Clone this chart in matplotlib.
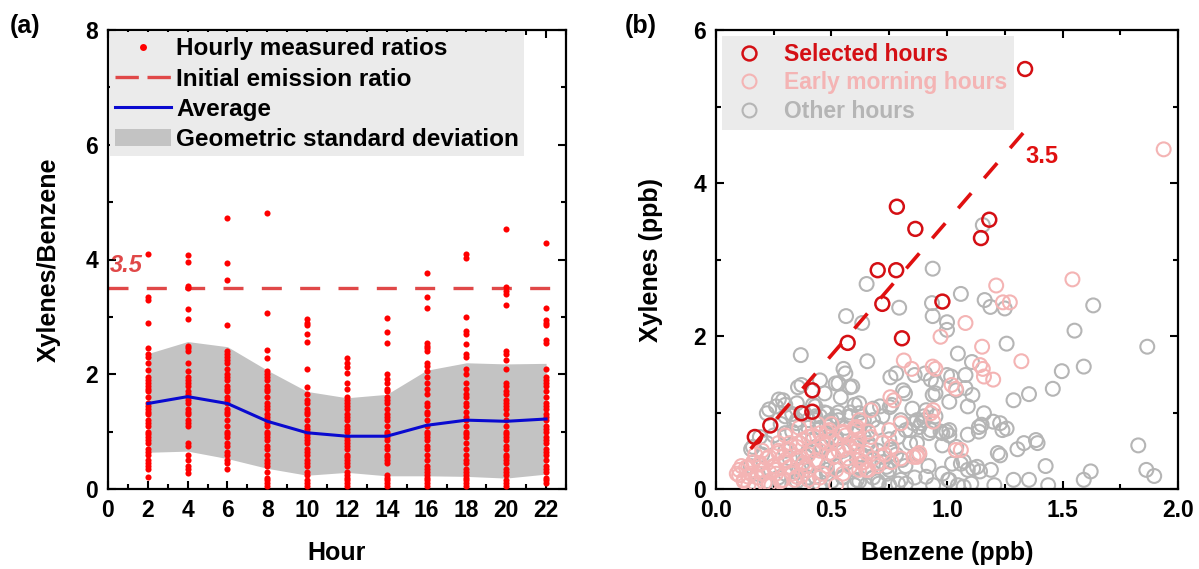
import numpy as np
import matplotlib.pyplot as plt
from matplotlib.lines import Line2D
from matplotlib.patches import Patch

plt.rcParams['font.family'] = ['Liberation Sans', 'DejaVu Sans']
plt.rcParams['font.weight'] = 'bold'

# ---- panel (a): hourly ratios ----
hours = [2, 4, 6, 8, 10, 12, 14, 16, 18, 20, 22]
ratios = {
    2: [4.1, 3.34, 3.3, 2.9, 2.45, 2.35, 2.3, 2.2, 2.07, 1.95, 1.9, 1.85, 1.8, 1.75, 1.7, 1.6,
        1.5, 1.45, 1.4, 1.35, 1.3, 1.2, 1.15, 1.1, 1.0, 0.95, 0.9, 0.85, 0.8, 0.7, 0.65, 0.6,
        0.5, 0.45, 0.4, 0.35, 0.21],
    4: [4.08, 3.96, 3.54, 3.5, 3.13, 2.97, 2.49, 2.45, 2.4, 2.19, 2.05, 1.95, 1.9, 1.85, 1.8,
        1.7, 1.65, 1.6, 1.55, 1.5, 1.4, 1.35, 1.3, 1.2, 1.15, 1.1, 0.8, 0.75, 0.6, 0.5, 0.4,
        0.35, 0.28],
    6: [4.72, 3.94, 3.64, 2.86, 2.4, 2.35, 2.3, 2.25, 2.2, 2.1, 2.0, 1.95, 1.9, 1.8, 1.75, 1.7,
        1.6, 1.55, 1.5, 1.4, 1.35, 1.3, 1.2, 1.1, 1.0, 0.95, 0.9, 0.8, 0.75, 0.65, 0.6, 0.5,
        0.45, 0.35],
    8: [4.81, 3.06, 2.42, 2.28, 2.05, 2.0, 1.95, 1.9, 1.8, 1.75, 1.7, 1.6, 1.5, 1.45, 1.4, 1.3,
        1.25, 1.2, 1.15, 1.1, 1.0, 0.95, 0.9, 0.85, 0.75, 0.7, 0.6, 0.5, 0.45, 0.4, 0.3, 0.2,
        0.15, 0.1, 0.05],
    10: [2.97, 2.9, 2.85, 2.71, 2.57, 2.1, 1.78, 1.65, 1.55, 1.5, 1.4, 1.35, 1.3, 1.2, 1.1,
         1.05, 1.0, 0.95, 0.9, 0.85, 0.8, 0.7, 0.65, 0.6, 0.5, 0.45, 0.4, 0.3, 0.25, 0.15, 0.1,
         0.05],
    12: [2.28, 2.2, 2.12, 2.02, 1.85, 1.75, 1.6, 1.55, 1.5, 1.45, 1.4, 1.3, 1.25, 1.2, 1.1,
         1.05, 1.0, 0.9, 0.85, 0.8, 0.75, 0.7, 0.6, 0.55, 0.5, 0.45, 0.4, 0.3, 0.25, 0.2, 0.15,
         0.1, 0.05],
    14: [2.98, 2.74, 2.55, 2.0, 1.92, 1.85, 1.75, 1.7, 1.6, 1.55, 1.5, 1.4, 1.3, 1.25, 1.2,
         1.1, 1.0, 0.95, 0.9, 0.85, 0.75, 0.7, 0.6, 0.55, 0.5, 0.45, 0.25, 0.2, 0.15, 0.1, 0.05],
    16: [3.76, 3.34, 3.16, 2.55, 2.5, 2.45, 2.4, 2.2, 2.15, 2.05, 1.95, 1.85, 1.75, 1.65, 1.5,
         1.45, 1.35, 1.3, 1.2, 1.1, 1.0, 0.95, 0.9, 0.85, 0.75, 0.7, 0.6, 0.5, 0.4, 0.35, 0.3,
         0.25, 0.2, 0.15, 0.1, 0.05],
    18: [4.1, 4.02, 2.99, 2.75, 2.7, 2.52, 2.35, 2.3, 2.1, 2.0, 1.85, 1.75, 1.65, 1.6, 1.5,
         1.45, 1.35, 1.25, 1.2, 1.1, 1.0, 0.95, 0.9, 0.8, 0.7, 0.6, 0.5, 0.45, 0.35, 0.3, 0.25,
         0.2, 0.15, 0.1, 0.05],
    20: [4.54, 3.52, 3.45, 3.4, 3.2, 2.4, 2.35, 2.25, 2.1, 1.85, 1.8, 1.7, 1.65, 1.55, 1.5,
         1.45, 1.4, 1.3, 1.2, 1.1, 1.0, 0.95, 0.9, 0.85, 0.75, 0.7, 0.6, 0.55, 0.5, 0.45, 0.35,
         0.3, 0.25, 0.15, 0.1, 0.05],
    22: [4.29, 3.16, 2.95, 2.9, 2.85, 2.6, 2.55, 2.1, 1.95, 1.9, 1.85, 1.8, 1.7, 1.6, 1.5,
         1.45, 1.4, 1.3, 1.25, 1.2, 1.1, 1.05, 1.0, 0.9, 0.85, 0.8, 0.7, 0.65, 0.6, 0.5, 0.4,
         0.35, 0.3, 0.2, 0.15, 0.1],
}
avg_ratio = [1.49, 1.61, 1.49, 1.18, 0.98, 0.92, 0.92, 1.11, 1.20, 1.18, 1.22]
gsd_upper = [2.36, 2.57, 2.48, 2.07, 1.70, 1.59, 1.65, 2.07, 2.20, 2.18, 2.19]
gsd_lower = [0.64, 0.66, 0.53, 0.36, 0.24, 0.29, 0.23, 0.23, 0.22, 0.19, 0.26]
emission_ratio = 3.5

# ---- panel (b): xylenes vs benzene (ppb) ----
sel_bz = [1.338, 0.783, 0.863, 1.183, 1.147, 0.70, 0.78, 0.72, 0.98, 0.57, 0.805, 0.417,
          0.417, 0.235, 0.168, 0.37]
sel_xy = [5.49, 3.69, 3.40, 3.52, 3.28, 2.86, 2.86, 2.42, 2.45, 1.91, 1.97, 1.29,
          1.01, 0.83, 0.68, 0.99]

early_bz = [1.938, 1.543, 1.213, 1.242, 1.272, 1.08, 0.972, 1.152, 1.322, 1.143, 1.155, 1.2,
            0.813, 0.847, 0.938, 0.95, 1.038, 1.02, 0.755, 0.93, 0.94, 1.038, 0.855, 0.87,
            0.8, 0.76, 0.72, 0.6, 0.55, 0.5, 0.52, 0.45, 0.4, 0.35, 0.3, 0.25, 0.2, 0.15,
            0.1, 0.12, 0.18, 0.22, 0.27, 0.32, 0.38, 0.42, 0.48, 0.53, 0.58, 0.62, 0.66, 0.68,
            0.64, 0.55, 0.48, 0.4, 0.33, 0.28, 0.24, 0.14, 0.3, 0.36, 0.44, 0.5, 0.57, 0.62,
            0.7, 0.73, 0.76, 0.09, 0.16, 0.2, 0.26, 0.35, 0.45, 0.52, 0.13, 0.19, 0.23, 0.29,
            0.34, 0.39, 0.46, 0.51, 0.56, 0.61, 0.42, 0.37, 0.27, 0.21, 0.17, 0.11,
            0.10, 0.14, 0.19, 0.23, 0.27, 0.32, 0.36, 0.40, 0.45, 0.49, 0.55, 0.61, 0.14,
            0.20, 0.26, 0.32, 0.38, 0.43, 0.49, 0.55, 0.61, 0.29, 0.35, 0.40, 0.46, 0.52,
            0.58, 0.63, 0.23, 0.17, 0.12, 0.42, 0.48, 0.36, 0.30, 0.25, 0.65, 0.66, 0.61,
            0.62, 0.65, 0.70, 0.61, 0.67, 0.62, 0.67, 0.77, 0.75, 0.80, 0.87, 0.88, 0.94,
            1.06, 1.16]
early_xy = [4.44, 2.74, 2.66, 2.44, 2.44, 2.17, 1.99, 1.86, 1.67, 1.62, 1.57, 1.43,
            1.68, 1.57, 1.60, 1.57, 1.31, 1.36, 1.2, 0.99, 0.88, 0.51, 0.42, 0.45,
            0.4, 0.55, 0.6, 0.8, 0.75, 0.85, 0.6, 0.5, 0.45, 0.4, 0.35, 0.3, 0.25, 0.2,
            0.18, 0.1, 0.15, 0.4, 0.5, 0.6, 0.65, 0.7, 0.75, 0.5, 0.55, 0.65, 0.75, 0.4,
            0.35, 0.2, 0.3, 0.25, 0.2, 0.1, 0.05, 0.05, 0.7, 0.8, 0.85, 0.65, 0.4, 0.25,
            0.3, 0.45, 0.35, 0.2, 0.35, 0.5, 0.2, 0.55, 0.15, 0.05, 0.28, 0.32, 0.22, 0.42,
            0.12, 0.3, 0.62, 0.42, 0.7, 0.5, 0.08, 0.18, 0.6, 0.08, 0.45, 0.3,
            0.25, 0.29, 0.34, 0.42, 0.47, 0.51, 0.60, 0.68, 0.73, 0.77, 0.73, 0.77, 0.16,
            0.20, 0.25, 0.29, 0.34, 0.38, 0.47, 0.51, 0.56, 0.12, 0.16, 0.12, 0.20, 0.25,
            0.29, 0.34, 0.07, 0.07, 0.12, 0.51, 0.60, 0.42, 0.38, 0.29, 0.47, 0.25, 0.81,
            0.38, 0.25, 0.34, 0.60, 0.68, 0.90, 1.03, 1.16, 0.77, 0.86, 0.42, 0.47, 1.03,
            0.51, 1.47]

other_bz = [0.938, 0.652, 1.06, 0.935, 0.793, 0.563, 0.633, 0.938, 1.0, 1.0, 1.163, 1.188,
            1.25, 1.633, 1.552, 1.258, 1.047, 1.867, 1.592, 1.497, 1.458, 1.355, 1.288, 1.108,
            1.08, 1.018, 0.938, 0.952, 0.905, 0.755, 0.818, 0.752, 0.655, 0.552, 0.518, 0.58,
            0.367, 0.355, 0.272, 0.23, 0.152, 1.138, 1.138, 1.23, 1.258, 1.24, 1.333, 1.385,
            1.392, 1.305, 1.23, 1.427, 1.622, 1.592, 1.828, 1.863, 1.897, 1.143, 1.105, 1.205,
            1.288, 1.355, 1.438, 1.005, 1.022, 1.072, 1.113, 0.972, 0.997, 0.98, 1.047, 1.072,
            0.922, 0.888, 0.855, 0.822, 0.788, 0.755, 0.805, 0.738, 0.788, 0.822, 0.705, 1.155,
            0.2, 0.22, 0.25, 0.28, 0.3, 0.3, 0.32, 0.33, 0.35, 0.36, 0.37, 0.38, 0.4, 0.4,
            0.42, 0.43, 0.44, 0.45, 0.46, 0.47, 0.48, 0.49, 0.5, 0.5, 0.52, 0.52, 0.53, 0.55,
            0.55, 0.56, 0.57, 0.58, 0.6, 0.6, 0.62, 0.62, 0.63, 0.64, 0.65, 0.66, 0.68, 0.68,
            0.7, 0.7, 0.72, 0.72, 0.74, 0.75, 0.76, 0.78, 0.8, 0.82, 0.84, 0.86, 0.88, 0.9,
            0.92, 0.35, 0.4, 0.45, 0.5, 0.3, 0.25, 0.27, 0.6, 0.65, 0.7, 0.75, 0.15, 0.18,
            0.22, 0.33, 0.3, 0.33, 0.45, 0.49, 0.52, 0.58, 0.6, 0.42, 0.54, 0.47, 0.9, 0.95,
            0.85, 0.87, 1.01, 1.04,
            0.78, 0.86, 0.93, 1.0, 1.04, 1.08, 1.11, 0.81, 0.95, 1.01, 0.91, 0.87, 0.84,
            0.88, 0.93, 0.98, 1.01, 1.15, 1.2, 1.09, 1.06, 1.09, 1.13, 1.19, 1.22, 1.01,
            0.98, 0.94, 0.91, 0.75, 0.72, 0.67, 0.64, 0.68, 0.71, 0.62, 0.80, 1.16, 1.09,
            0.37, 0.45, 0.53, 0.56, 0.59, 0.29, 0.26, 0.22, 0.35, 0.43, 0.48, 0.40, 0.35,
            0.30, 0.16, 0.19, 0.48, 0.53, 0.58, 0.62, 0.63, 0.52, 0.58, 0.61, 0.51, 0.43,
            0.39, 0.48, 0.55, 0.61, 0.43, 0.36, 0.38]
other_xy = [2.88, 2.68, 2.55, 2.43, 2.37, 2.26, 2.17, 2.26, 2.18, 2.08, 2.47, 2.38,
            2.36, 2.40, 2.07, 1.90, 1.77, 1.86, 1.60, 1.54, 1.31, 1.24, 1.16, 1.66,
            1.49, 1.47, 1.23, 1.38, 1.51, 1.46, 1.25, 1.07, 1.67, 1.57, 1.38, 1.33,
            1.75, 1.33, 1.17, 1.04, 0.52, 0.81, 0.75, 0.86, 0.79, 0.77, 0.60, 0.64,
            0.60, 0.52, 0.44, 0.30, 0.23, 0.12, 0.57, 0.25, 0.17, 0.23, 0.07, 0.05,
            0.12, 0.12, 0.05, 0.12, 0.33, 0.36, 0.27, 0.75, 0.75, 0.57, 0.05, 0.03,
            0.73, 0.86, 0.86, 0.77, 0.68, 0.51, 0.38, 0.29, 0.07, 0.07, 0.07, 3.45,
            0.45, 0.6, 0.7, 0.85, 0.5, 0.95, 0.4, 0.75, 0.9, 0.6, 0.3, 1.0, 0.8, 0.5,
            0.65, 0.95, 0.35, 0.8, 0.55, 1.0, 0.2, 0.7, 0.45, 0.9, 0.3, 0.65, 1.0, 0.15,
            0.5, 0.8, 0.35, 0.95, 0.6, 0.25, 0.75, 0.1, 0.45, 0.9, 0.3, 0.6, 0.15, 1.05,
            0.5, 0.8, 0.35, 0.95, 0.2, 0.65, 1.1, 0.45, 0.9, 0.3, 0.6, 0.15, 0.45, 0.95,
            0.3, 0.1, 0.15, 0.05, 0.1, 0.2, 0.3, 0.15, 0.05, 0.05, 0.1, 0.05, 0.3, 0.2,
            0.1, 0.05, 1.1, 0.98, 0.95, 0.88, 0.95, 1.0, 1.1, 1.1, 1.2, 1.25, 0.9, 0.95,
            1.05, 0.6, 0.7, 0.55,
            1.51, 1.49, 1.43, 1.49, 1.29, 1.32, 1.23, 1.29, 1.25, 1.14, 1.03, 0.90, 0.77,
            0.81, 0.77, 0.73, 0.77, 0.84, 0.88, 0.71, 0.33, 0.25, 0.29, 0.25, 0.47, 0.12,
            0.20, 0.05, 0.16, 0.25, 0.42, 0.55, 0.68, 0.90, 1.08, 0.99, 0.12, 0.99, 1.08,
            1.36, 1.42, 1.38, 1.51, 1.34, 1.16, 1.08, 0.99, 1.12, 1.08, 0.99, 0.90, 0.86,
            0.73, 0.55, 0.68, 0.82, 0.90, 0.95, 1.12, 0.86, 0.68, 0.56, 0.38, 0.42, 0.55,
            0.42, 0.25, 0.16, 0.12, 0.16, 0.25, 0.07]
line_bz = [0.15, 1.33]

fig = plt.figure(figsize=(11.99, 5.69), dpi=100)
ax1 = fig.add_axes([108 / 1199, 80 / 569, 458 / 1199, 459 / 569])
ax2 = fig.add_axes([716 / 1199, 80 / 569, 462 / 1199, 459 / 569])

red = '#ff0000'
dash_red = '#e04848'

# (a)
ax1.fill_between(hours, gsd_lower, gsd_upper, color='#c3c3c3', lw=0, zorder=1)
for h in hours:
    ax1.plot([h] * len(ratios[h]), ratios[h], 'o', color=red, ms=4.4, mew=0, zorder=3)
ax1.axhline(emission_ratio, color=dash_red, lw=2.4, ls=(0, (6, 5.5)), zorder=2)
ax1.plot(hours, avg_ratio, color='#0a0ad0', lw=2.2, zorder=4)
ax1.text(0.1, 3.9, '3.5', color=dash_red, fontsize=17, fontweight='bold', va='center',
         style='italic', zorder=5)
ax1.set_xlim(0, 23)
ax1.set_ylim(0, 8)
ax1.set_xticks(range(0, 23, 2))
ax1.set_xticks(range(0, 24), minor=True)
ax1.set_yticks([0, 2, 4, 6, 8])
ax1.set_yticks([1, 3, 5, 7], minor=True)
ax1.set_xlabel('Hour', fontsize=18, fontweight='bold', labelpad=14)
ax1.set_ylabel('Xylenes/Benzene', fontsize=18, fontweight='bold', labelpad=18)

handles_a = [
    Line2D([], [], marker='o', ls='none', color=red, ms=5, mew=0),
    Line2D([], [], color=dash_red, lw=2.4, ls=(0, (7, 2.6))),
    Line2D([], [], color='#0a0ad0', lw=2.2),
    Patch(facecolor='#c3c3c3', edgecolor='none'),
]
labels_a = ['Hourly measured ratios', 'Initial emission ratio', 'Average',
            'Geometric standard deviation']
leg = ax1.legend(handles_a, labels_a, loc='upper left', fontsize=17.5, frameon=True,
                 fancybox=False, facecolor='#ebebeb', edgecolor='none', framealpha=1,
                 borderaxespad=0.1, borderpad=0.2, handlelength=2.3, handletextpad=0.2,
                 labelspacing=0.3)
for t in leg.get_texts():
    t.set_fontweight('bold')

# (b)
ax2.scatter(other_bz, other_xy, s=100, facecolors='none', edgecolors='#b5b5b5', lw=1.5,
            zorder=2)
ax2.scatter(early_bz, early_xy, s=100, facecolors='none', edgecolors='#f4b4b4', lw=1.5,
            zorder=3)
ax2.scatter(sel_bz, sel_xy, s=100, facecolors='none', edgecolors='#d40f14', lw=1.8, zorder=4)
ax2.plot(line_bz, [emission_ratio * b for b in line_bz], color='#e01010', lw=2.6,
         ls=(0, (5.5, 5.5)), zorder=5)
ax2.text(1.34, 4.35, '3.5', color='#e01010', fontsize=17, fontweight='bold', va='center')
ax2.set_xlim(0, 2)
ax2.set_ylim(0, 6)
ax2.set_xticks([0, 0.5, 1.0, 1.5, 2.0])
ax2.set_xticklabels(['0.0', '0.5', '1.0', '1.5', '2.0'])
ax2.set_xticks([0.25, 0.75, 1.25, 1.75], minor=True)
ax2.set_yticks([0, 2, 4, 6])
ax2.set_yticks([1, 3, 5], minor=True)
ax2.set_xlabel('Benzene (ppb)', fontsize=18, fontweight='bold', labelpad=14)
ax2.set_ylabel('Xylenes (ppb)', fontsize=18, fontweight='bold', labelpad=22)

handles_b = [
    Line2D([], [], marker='o', ls='none', mfc='none', mec='#d40f14', ms=10, mew=1.8),
    Line2D([], [], marker='o', ls='none', mfc='none', mec='#f4b4b4', ms=10, mew=1.5),
    Line2D([], [], marker='o', ls='none', mfc='none', mec='#b5b5b5', ms=10, mew=1.5),
]
leg2 = ax2.legend(handles_b, ['Selected hours', 'Early morning hours', 'Other hours'],
                  loc='upper left', fontsize=16.5, frameon=True, fancybox=False,
                  facecolor='#ebebeb', edgecolor='none', framealpha=1, borderaxespad=0.25,
                  borderpad=0.3, handlelength=1.8, handletextpad=0.6, labelspacing=0.25)
for t, c in zip(leg2.get_texts(), ['#d40f14', '#f4b4b4', '#b5b5b5']):
    t.set_color(c)
    t.set_fontweight('bold')

for ax in (ax1, ax2):
    ax.tick_params(which='both', direction='in', top=True, right=True, width=1.5,
                   labelsize=16.5, pad=7)
    ax.tick_params(which='major', length=6)
    ax.tick_params(which='minor', length=3.5)
    for lab in ax.get_xticklabels() + ax.get_yticklabels():
        lab.set_fontweight('bold')
    for sp in ax.spines.values():
        sp.set_linewidth(1.6)

fig.text(10 / 1199, 1 - 26 / 569, '(a)', fontsize=18, fontweight='bold', va='center')
fig.text(625 / 1199, 1 - 26 / 569, '(b)', fontsize=18, fontweight='bold', va='center')

fig.savefig('out.png', dpi=100)
